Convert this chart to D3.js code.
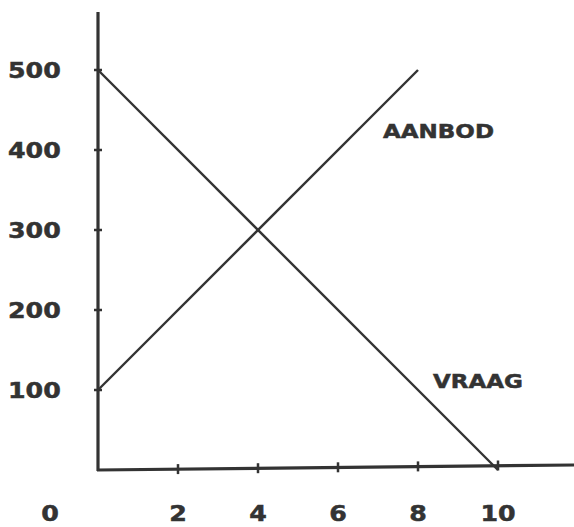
<!DOCTYPE html>
<meta charset="utf-8">
<style>
body { margin: 0; background: #fff; }
text { font-family: "DejaVu Sans", sans-serif; font-weight: bold; fill: #333; stroke: #333; stroke-width: 0.5; }
</style>
<svg width="574" height="527"></svg>
<script src="https://d3js.org/d3.v7.min.js"></script>
<script>
// hoeveelheid / prijs
var xTicks = [2, 4, 6, 8, 10];
var yTicks = [100, 200, 300, 400, 500];
var vraagQ = [0, 10], vraagP = [500, 0];
var aanbodQ = [0, 8], aanbodP = [100, 500];

var svg = d3.select("svg");
var ink = "#333";

var x = d3.scaleLinear().domain([0, 10]).range([98, 498]);
var y = d3.scaleLinear().domain([0, 500]).range([470, 70]);

// axes
svg.append("line")
    .attr("x1", x(0)).attr("y1", 12)
    .attr("x2", x(0)).attr("y2", y(0) + 1)
    .attr("stroke", ink).attr("stroke-width", 3.2);
svg.append("line")
    .attr("x1", x(0) - 1).attr("y1", y(0))
    .attr("x2", 574).attr("y2", y(0) - 5)
    .attr("stroke", ink).attr("stroke-width", 3.2);

// ticks
svg.selectAll(".yt").data(yTicks).enter().append("line")
    .attr("x1", x(0) - 4).attr("x2", x(0) + 4)
    .attr("y1", function(d) { return y(d); })
    .attr("y2", function(d) { return y(d); })
    .attr("stroke", ink).attr("stroke-width", 2.5);
svg.selectAll(".xt").data(xTicks).enter().append("line")
    .attr("x1", function(d) { return x(d); })
    .attr("x2", function(d) { return x(d); })
    .attr("y1", function(d) { return y(0) - d * 0.45 - 5; })
    .attr("y2", function(d) { return y(0) - d * 0.45 + 5; })
    .attr("stroke", ink).attr("stroke-width", 2.5);

// wide bold labels
function label(px, py, size, anchor) {
  return "translate(" + px + "," + py + ") scale(1.15,1)";
}

svg.selectAll(".yl").data(yTicks).enter().append("text")
    .attr("transform", function(d) { return label(8, y(d) + 8); })
    .attr("font-size", 22)
    .text(function(d) { return d; });
svg.selectAll(".xl").data([0].concat(xTicks)).enter().append("text")
    .attr("transform", function(d) { return label(d === 0 ? 50 : x(d), 521); })
    .attr("text-anchor", "middle")
    .attr("font-size", 22)
    .text(function(d) { return d; });

// curves
var line = d3.line()
    .x(function(d) { return x(d[0]); })
    .y(function(d) { return y(d[1]); });

svg.append("path")
    .datum(d3.zip(vraagQ, vraagP))
    .attr("d", line)
    .attr("fill", "none").attr("stroke", ink).attr("stroke-width", 2.4);
svg.append("path")
    .datum(d3.zip(aanbodQ, aanbodP))
    .attr("d", line)
    .attr("fill", "none").attr("stroke", ink).attr("stroke-width", 2.4);

svg.append("text").attr("transform", label(383, 138))
    .attr("font-size", 20).text("AANBOD");
svg.append("text").attr("transform", label(433, 388))
    .attr("font-size", 20).text("VRAAG");
</script>
